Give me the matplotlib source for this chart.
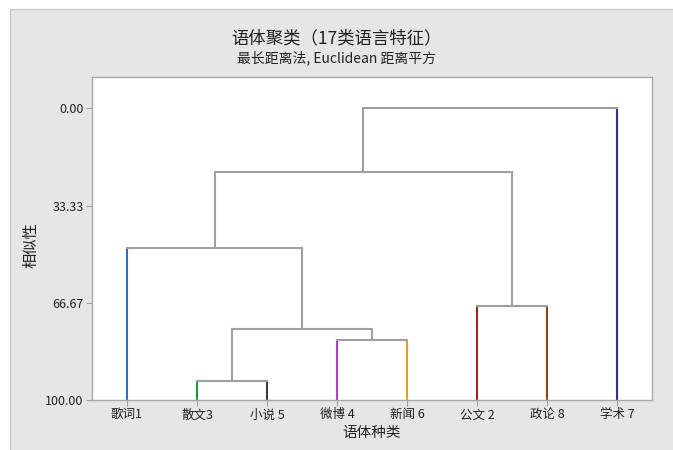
import matplotlib
matplotlib.use("Agg")
import matplotlib.pyplot as plt
import matplotlib.patches as mpatches

plt.rcParams["font.family"] = ["Noto Sans CJK SC", "DejaVu Sans"]

# leaves in drawing order
leaf_labels = ["歌词1", "散文3", "小说 5", "微博 4", "新闻 6", "公文 2", "政论 8", "学术 7"]
leaf_colors = ["#2f6fba", "#1c9a34", "#3c3c3c", "#b03cd0", "#e0a02c",
               "#a82020", "#8a4a14", "#30309c"]

# merges: (left node, right node, similarity); new node ids follow the leaves
merge_left = [1, 3, 8, 5, 0, 12, 13]
merge_right = [2, 4, 9, 6, 10, 11, 7]
merge_sim = [93.5, 79.4, 75.5, 67.65, 47.75, 21.7, 0.0]

y_ticks = [0.0, 33.33, 66.67, 100.0]

LINK = "#a0a0a0"

fig = plt.figure(figsize=(6.73, 4.5), dpi=100)
fig.patch.set_facecolor("white")
bg = mpatches.Rectangle(
    (10 / 673, -0.01), 1.01 - 10 / 673, 1.01 - 9 / 450, transform=fig.transFigure,
    facecolor="#e6e6e6", edgecolor="#c8c8c8", lw=1.0, zorder=-10)
fig.add_artist(bg)

ax = fig.add_axes([92 / 673, 1 - 400 / 450, 560 / 673, 323 / 450])
ax.set_zorder(1)
ax.set_facecolor("white")

n = len(leaf_labels)
xpos = {i: i + 1 for i in range(n)}
height = {i: 100.0 for i in range(n)}
parent_h = {}
for k, (a, b, s) in enumerate(zip(merge_left, merge_right, merge_sim)):
    parent_h[a] = s
    parent_h[b] = s
    node = n + k
    xpos[node] = (xpos[a] + xpos[b]) / 2
    height[node] = s

# vertical lines: leaves coloured, clusters grey
for node, top in parent_h.items():
    color = leaf_colors[node] if node < n else LINK
    ax.plot([xpos[node], xpos[node]], [height[node], top], color=color, lw=1.5,
            solid_capstyle="butt")

# horizontal links
for a, b, s in zip(merge_left, merge_right, merge_sim):
    ax.plot([xpos[a], xpos[b]], [s, s], color=LINK, lw=1.5, solid_capstyle="projecting")

ax.set_xlim(0.5, n + 0.5)
ax.set_ylim(100, -10.8)

ax.set_xticks(range(1, n + 1))
ax.set_xticklabels(leaf_labels, fontsize=9, color="#222222")
ax.set_yticks(y_ticks)
ax.set_yticklabels([f"{v:.2f}" for v in y_ticks], fontsize=9, color="#222222")
ax.tick_params(axis="both", direction="out", length=4, color="#a0a0a0", width=0.8, pad=2)

for sp in ax.spines.values():
    sp.set_color("#a8a8a8")
    sp.set_linewidth(1.0)

ax.set_xlabel("语体种类", fontsize=10.5, color="#222222", labelpad=3)
ax.set_ylabel("相似性", fontsize=11, color="#222222")
ax.yaxis.set_label_coords(-0.094, 0.48)

fig.text(0.5, 1 - 38 / 450, "语体聚类（17类语言特征）", ha="center", va="center",
         fontsize=12.5, color="#222222")
fig.text(0.5, 1 - 58 / 450, "最长距离法, Euclidean 距离平方", ha="center", va="center",
         fontsize=10, color="#222222")

fig.savefig("out.png", dpi=100, facecolor=fig.get_facecolor())
